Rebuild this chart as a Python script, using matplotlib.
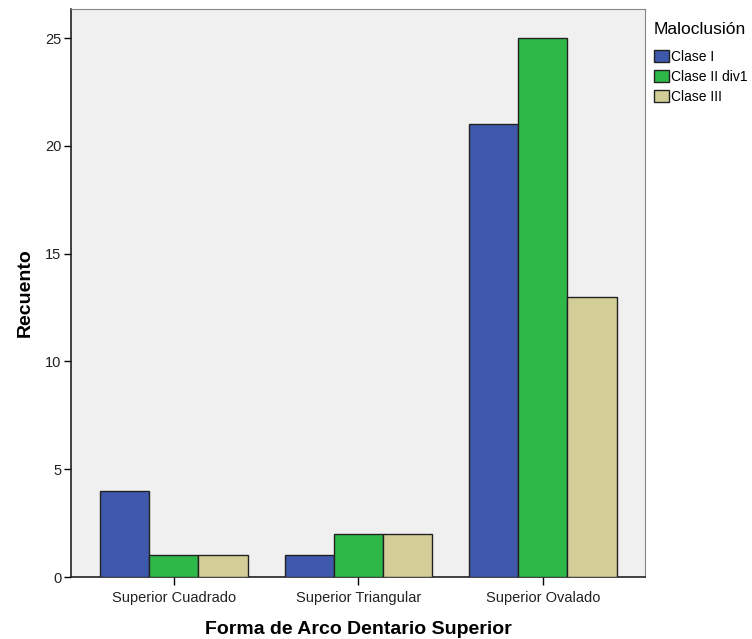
import matplotlib.pyplot as plt
import numpy as np

plt.rcParams['font.family'] = ['Liberation Sans', 'DejaVu Sans']

categories = ['Superior Cuadrado', 'Superior Triangular', 'Superior Ovalado']
series = ['Clase I', 'Clase II div1', 'Clase III']
clase_i = [4, 1, 21]
clase_ii = [1, 2, 25]
clase_iii = [1, 2, 13]
colors = ['#3E58AC', '#2EB848', '#D3CE97']

fig = plt.figure(figsize=(7.52, 6.39), dpi=100)
ax = fig.add_axes([0.0944, 0.097, 0.7633, 0.889])
ax.set_facecolor('#F0F0F0')

x = np.arange(len(categories))
w = 0.266
for i, (vals, name) in enumerate(zip([clase_i, clase_ii, clase_iii], series)):
    ax.bar(x + (i - 1) * w, vals, w, color=colors[i], edgecolor='#222222',
           linewidth=1.0, label=name, zorder=3)

ax.set_xlim(-0.558, 2.553)
ax.set_ylim(0, 26.35)
ax.set_yticks([0, 5, 10, 15, 20, 25])
ax.set_xticks(x)
ax.set_xticklabels(categories, fontsize=10.5, color='#222222')
ax.tick_params(axis='y', labelsize=10.5, labelcolor='#222222', length=5, width=1, pad=2)
ax.tick_params(axis='x', length=6, width=1, pad=4)
for s in ['top', 'right']:
    ax.spines[s].set_color('#888888')
for s in ['left', 'bottom']:
    ax.spines[s].set_color('#222222')
    ax.spines[s].set_linewidth(1.2)

ax.set_ylabel('Recuento', fontsize=14, fontweight='bold', labelpad=8)
ax.set_xlabel('Forma de Arco Dentario Superior', fontsize=14, fontweight='bold', labelpad=11.5)

leg = ax.legend(loc='upper left', bbox_to_anchor=(1.0157, 0.977), frameon=False,
                title='Maloclusión', title_fontsize=12.5, fontsize=10,
                handlelength=1.05, handleheight=1.05, handletextpad=0.15,
                labelspacing=0.42, borderaxespad=0, borderpad=0)
leg._legend_box.align = 'left'
leg._legend_box.sep = 9
for p in leg.get_patches():
    p.set_edgecolor('#222222')

fig.savefig('out.png', dpi=100)
